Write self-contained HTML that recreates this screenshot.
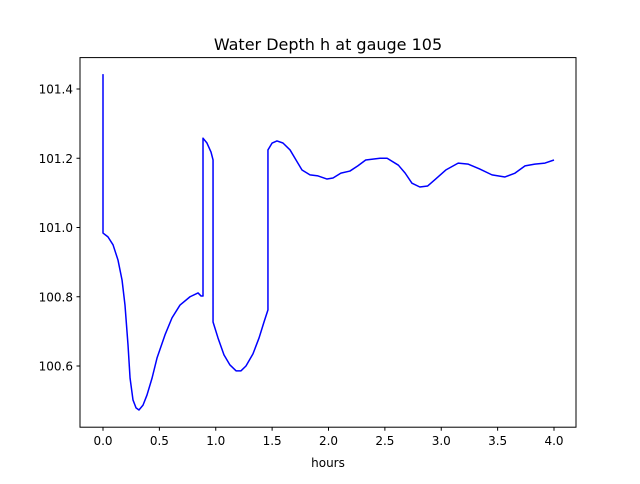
<!DOCTYPE html>
<html><head><meta charset="utf-8"><style>
body{margin:0;background:#fff;font-family:"DejaVu Sans","Liberation Sans",sans-serif;}
svg text{font-family:"DejaVu Sans","Liberation Sans",sans-serif;fill:#000;}
</style></head><body>
<svg id="chart" width="640" height="480">
<rect width="640" height="480" fill="#fff"/>
<text x="328" y="50" font-size="16" text-anchor="middle">Water Depth h at gauge 105</text>
<g id="plot"></g>
<rect x="80" y="57.6" width="496" height="369.6" fill="none" stroke="#000" stroke-width="1"/>
<text x="328" y="467" font-size="12" text-anchor="middle">hours</text>
</svg>
<script>
const hours=[0,0,0.044,0.089,0.133,0.169,0.195,0.222,0.24,0.266,0.293,0.319,0.355,0.39,0.435,0.479,0.55,0.612,0.683,0.772,0.843,0.87,0.887,0.887,0.922,0.958,0.976,0.976,1.02,1.073,1.126,1.18,1.224,1.268,1.33,1.384,1.428,1.463,1.463,1.5,1.543,1.596,1.659,1.712,1.765,1.836,1.907,1.987,2.04,2.11,2.19,2.26,2.33,2.457,2.52,2.62,2.68,2.74,2.81,2.88,2.95,3.04,3.15,3.24,3.34,3.45,3.565,3.654,3.743,3.83,3.92,4.0];
const depth=[101.443,100.984,100.973,100.95,100.906,100.848,100.776,100.66,100.565,100.502,100.479,100.473,100.487,100.516,100.565,100.623,100.69,100.739,100.776,100.8,100.811,100.802,100.802,101.258,101.244,101.218,101.195,100.727,100.681,100.632,100.603,100.586,100.586,100.6,100.635,100.681,100.727,100.762,101.224,101.244,101.25,101.244,101.224,101.195,101.166,101.152,101.149,101.14,101.143,101.157,101.163,101.178,101.195,101.2,101.2,101.18,101.157,101.128,101.117,101.12,101.14,101.166,101.186,101.183,101.169,101.152,101.146,101.157,101.178,101.183,101.186,101.195];
const xTicks=[0,0.5,1,1.5,2,2.5,3,3.5,4];
const xTickLabels=["0.0","0.5","1.0","1.5","2.0","2.5","3.0","3.5","4.0"];
const yTicks=[100.6,100.8,101.0,101.2,101.4];
const yTickLabels=["100.6","100.8","101.0","101.2","101.4"];
const xs=v=>103+(v-0)*112.75;
const ys=v=>89+(101.4-v)*346.25;
const NS="http://www.w3.org/2000/svg";
const g=document.getElementById('plot');
xTicks.forEach((t,i)=>{
  const l=document.createElementNS(NS,'line');
  l.setAttribute('x1',xs(t));l.setAttribute('x2',xs(t));l.setAttribute('y1',427.2);l.setAttribute('y2',430.7);l.setAttribute('stroke','#000');
  
  
  g.appendChild(l);
  const tx=document.createElementNS(NS,'text');
  tx.setAttribute('x',xs(t));tx.setAttribute('y',445);tx.setAttribute('font-size','12');tx.setAttribute('text-anchor','middle');
  tx.textContent=xTickLabels[i];
  
  
  g.appendChild(tx);
});
yTicks.forEach((t,i)=>{
  const l=document.createElementNS(NS,'line');
  l.setAttribute('x1',76.5);l.setAttribute('x2',80);l.setAttribute('y1',ys(t));l.setAttribute('y2',ys(t));l.setAttribute('stroke','#000');
  
  
  g.appendChild(l);
  const tx=document.createElementNS(NS,'text');
  tx.setAttribute('x',73);tx.setAttribute('y',ys(t)+4.5);tx.setAttribute('font-size','12');tx.setAttribute('text-anchor','end');
  tx.textContent=yTickLabels[i];
  
  
  g.appendChild(tx);
});
const p=document.createElementNS(NS,'polyline');
p.setAttribute('points',hours.map((h,i)=>xs(h)+','+ys(depth[i])).join(' '));
p.setAttribute('fill','none');p.setAttribute('stroke','#0000ff');p.setAttribute('stroke-width','1.5');p.setAttribute('stroke-linejoin','round');


g.appendChild(p);
</script>
</body></html>
